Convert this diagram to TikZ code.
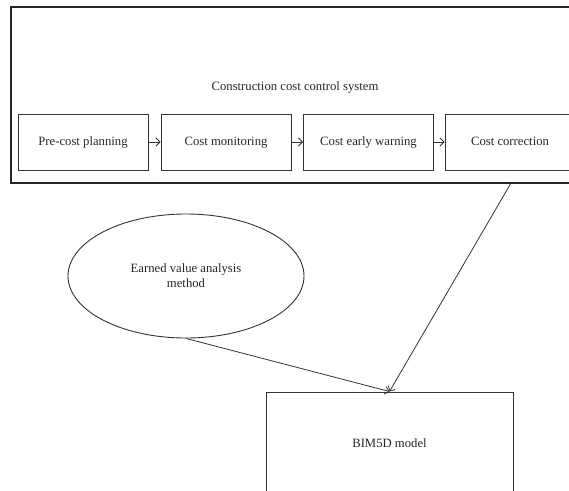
\documentclass[tikz,border=0pt]{standalone}
\usepackage{fontspec}
\setmainfont{Liberation Serif}
\usetikzlibrary{shapes.geometric,arrows.meta}
\begin{document}
\begin{tikzpicture}[x=1pt,y=-1pt,
  every node/.style={font=\fontsize{12.7}{15}\selectfont, text=black!85},
  stagebox/.style={draw=black!80, line width=0.9pt, minimum width=130pt, minimum height=56pt, inner sep=0pt, text height=9pt, text depth=3pt},
  outerbox/.style={draw=black!85, line width=1.3pt, minimum width=574pt, minimum height=176pt, inner sep=0pt},
  bigbox/.style={draw=black!80, line width=1pt, minimum width=247pt, minimum height=102pt, inner sep=0pt},
  ellbox/.style={ellipse, draw=black!80, line width=0.9pt, minimum width=236pt, minimum height=124pt, inner sep=0pt, align=center},
  flow/.style={draw=black!80, line width=0.8pt, -{Straight Barb[length=4pt,width=8pt]}}
]
\useasboundingbox (0,0) rectangle (569,490);
\clip (0,0) rectangle (569,490);
\node[outerbox] (outer) at (298,95) {};
\node (title) at (295,87) {Construction cost control system};
\node[stagebox] (s1) at (83,142) {Pre-cost planning};
\node[stagebox] (s2) at (226,142) {Cost monitoring};
\node[stagebox] (s3) at (368.5,142) {Cost early warning};
\node[stagebox] (s4) at (510,142) {Cost correction};
\draw[flow] (s1) -- (s2);
\draw[flow] (s2) -- (s3);
\draw[flow] (s3) -- (s4);
\node[ellbox] (evm) at (186,276) {Earned value analysis\\method};
\node[bigbox] (bim) at (389.5,443) {BIM5D model};
\coordinate (o1) at (511,183);
\draw[flow] (evm.south) -- (bim.north);
\draw[flow] (o1) -- (bim.north);
\end{tikzpicture}
\end{document}
